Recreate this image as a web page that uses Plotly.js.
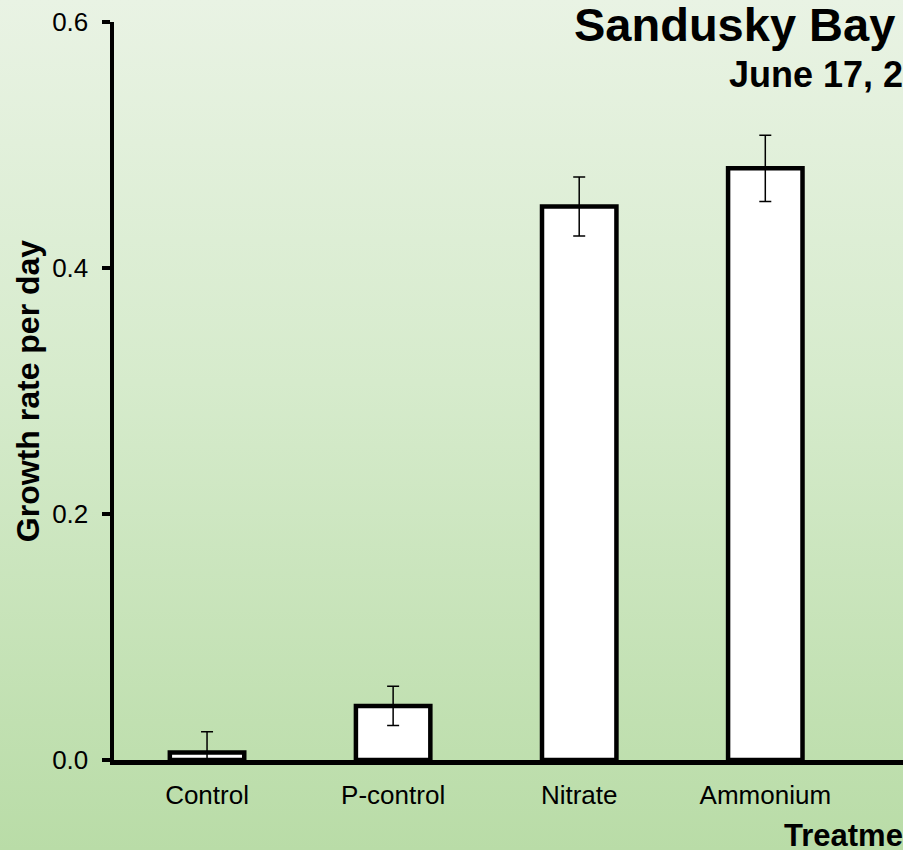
<!DOCTYPE html>
<html>
<head>
<meta charset="utf-8">
<script src="https://cdn.plot.ly/plotly-3.0.1.min.js"></script>
<style>
  html, body { margin: 0; padding: 0; overflow: hidden; }
  body {
    width: 903px; height: 850px;
    background: linear-gradient(to bottom, #e9f3e4 0%, #d6ebcc 45%, #b9dca7 100%);
  }
  #chart { width: 903px; height: 850px; }
</style>
</head>
<body>
<div id="chart"></div>
<script>
// Nutrient-addition growth rates, Sandusky Bay bioassay
const treatments = ['Control', 'P-control', 'Nitrate', 'Ammonium'];
const growthRate = [0.006, 0.044, 0.450, 0.481];
const stdError   = [0.017, 0.016, 0.024, 0.027];
const yTicks     = [0, 0.2, 0.4, 0.6];
const yTickText  = ['0.0', '0.2', '0.4', '0.6'];

const FONT = '"Liberation Sans", Arial, sans-serif';

const trace = {
  type: 'bar',
  x: treatments,
  y: growthRate,
  width: 0.40,
  marker: { color: '#ffffff', line: { color: '#000000', width: 4.5 } },
  error_y: { type: 'data', array: stdError, visible: true,
             color: '#000000', thickness: 1.5, width: 6 },
  hoverinfo: 'x+y'
};

const layout = {
  width: 903, height: 850,
  margin: { l: 114, r: 0, t: 22, b: 90, pad: 0 },
  paper_bgcolor: 'rgba(0,0,0,0)',
  plot_bgcolor: 'rgba(0,0,0,0)',
  font: { family: FONT, color: '#000000', size: 26 },
  showlegend: false,
  title: {
    text: '<b>Sandusky Bay</b>',
    font: { family: FONT, size: 47, color: '#000000' },
    xref: 'container', x: 574 / 903, xanchor: 'left',
    yref: 'container', y: 1 - 25 / 850, yanchor: 'middle'
  },
  xaxis: {
    type: 'category',
    range: [-0.5, 3.74],
    showline: true, linecolor: '#000000', linewidth: 4.5,
    ticks: '', showgrid: false, zeroline: false,
    tickfont: { family: FONT, size: 26, color: '#000000' },
    ticklabelstandoff: 8,
    fixedrange: true
  },
  yaxis: {
    range: [0, 0.6],
    tickvals: yTicks, ticktext: yTickText,
    showline: true, linecolor: '#000000', linewidth: 4.5,
    ticks: 'outside', ticklen: 8, tickwidth: 4, tickcolor: '#000000',
    ticklabelstandoff: 8,
    showgrid: false, zeroline: false,
    tickfont: { family: FONT, size: 26, color: '#000000' },
    title: { text: '<b>Growth rate per day</b>', standoff: 4,
             font: { family: FONT, size: 32, color: '#000000' } },
    fixedrange: true
  },
  annotations: [
    {
      text: '<b>June 17, 2</b>',
      xref: 'paper', yref: 'paper',
      x: (727 - 114) / 789, xanchor: 'left',
      y: (760 - 74) / 738, yanchor: 'middle',
      showarrow: false,
      font: { family: FONT, size: 36, color: '#000000' }
    },
    {
      text: '<b>Treatment</b>',
      xref: 'paper', yref: 'paper',
      x: (782 - 114) / 789, xanchor: 'left',
      y: (760 - 835) / 738, yanchor: 'middle',
      showarrow: false,
      font: { family: FONT, size: 31, color: '#000000' }
    }
  ]
};

Plotly.newPlot('chart', [trace], layout, { displayModeBar: false, staticPlot: true });
</script>
</body>
</html>
